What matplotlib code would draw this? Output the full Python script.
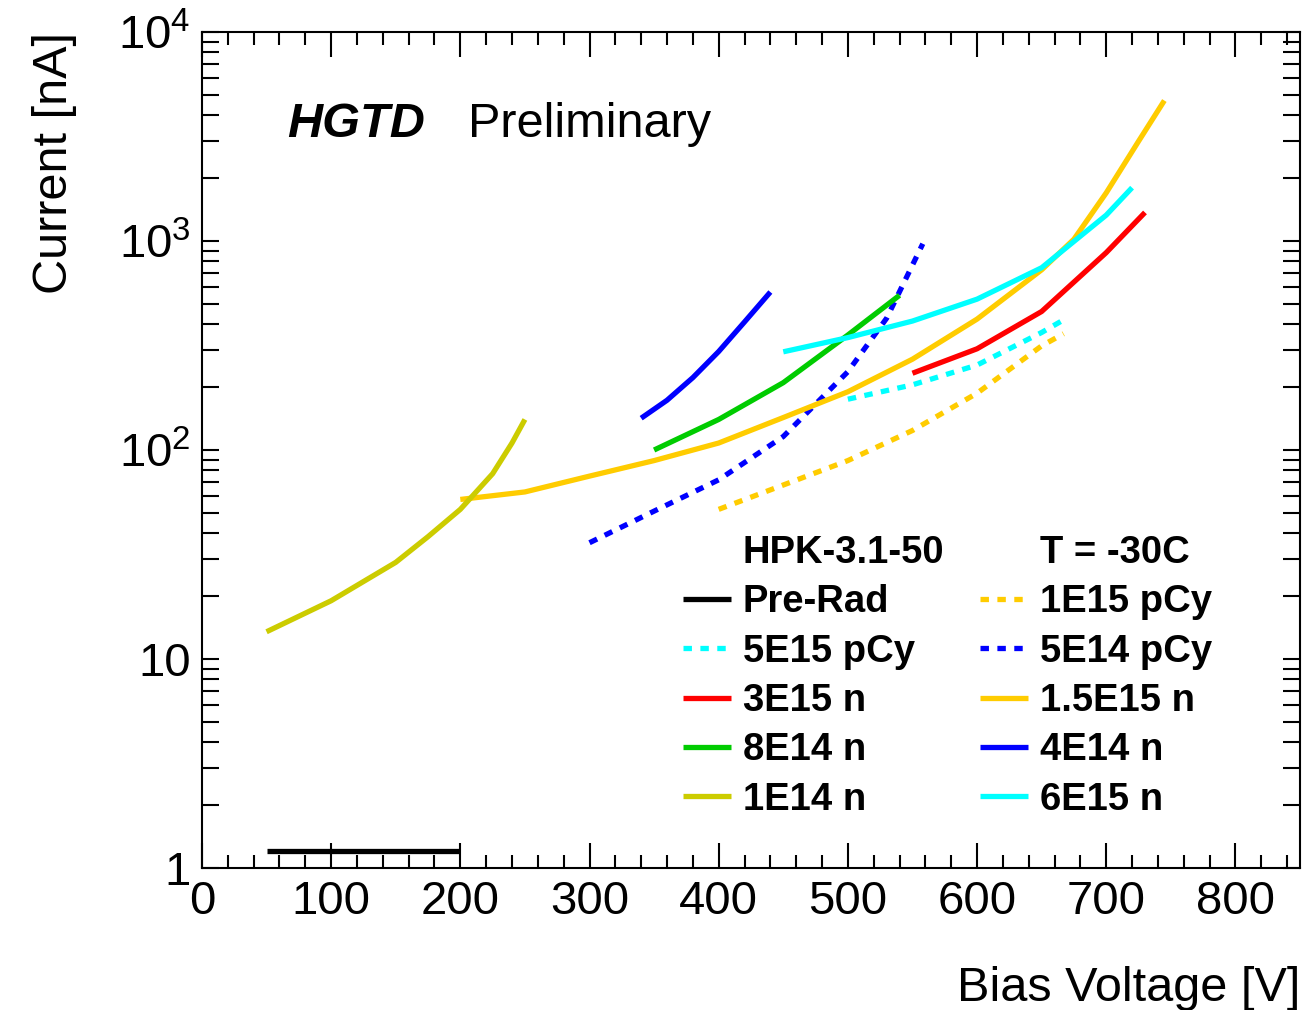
import matplotlib
matplotlib.use("Agg")
import matplotlib.pyplot as plt
from matplotlib.ticker import MultipleLocator, FixedLocator, FixedFormatter, LogLocator, NullFormatter
from matplotlib.lines import Line2D

plt.rcParams['font.family'] = ['Liberation Sans', 'DejaVu Sans']
plt.rcParams['mathtext.fontset'] = 'custom'
plt.rcParams['mathtext.rm'] = 'Liberation Sans'

# I-V curves, HPK-3.1-50 at -30C (bias in V, current in nA)
v_prerad = [50, 200]
i_prerad = [1.2, 1.2]

v_1e15pcy = [400, 450, 500, 550, 600, 650, 667]
i_1e15pcy = [52, 68, 89, 124, 187, 315, 360]

v_5e15pcy = [500, 550, 600, 650, 670]
i_5e15pcy = [175, 205, 255, 365, 430]

v_5e14pcy = [300, 350, 400, 450, 500, 530, 558]
i_5e14pcy = [36, 51, 72, 116, 237, 427, 970]

v_3e15n = [550, 600, 650, 700, 730]
i_3e15n = [233, 305, 460, 880, 1370]

v_15e15n = [200, 250, 300, 350, 400, 450, 500, 550, 600, 650, 675, 700, 725, 745]
i_15e15n = [58, 63, 75, 89, 108, 143, 190, 272, 423, 728, 1020, 1700, 3000, 4700]

v_8e14n = [350, 400, 450, 500, 540]
i_8e14n = [100, 140, 210, 355, 550]

v_4e14n = [340, 360, 380, 400, 420, 440]
i_4e14n = [142, 173, 222, 296, 410, 570]

v_1e14n = [50, 100, 150, 175, 200, 225, 240, 250]
i_1e14n = [13.5, 19, 29, 38.5, 52, 77, 108, 140]

v_6e15n = [450, 500, 550, 600, 650, 700, 720]
i_6e15n = [295, 345, 414, 527, 745, 1330, 1800]

ytick_vals = [1, 10, 100, 1000, 10000]
ytick_labels = ['1', '10', '$10^{2}$', '$10^{3}$', '$10^{4}$']

fig = plt.figure(figsize=(13.03, 10.10), dpi=100)
ax = fig.add_axes([0.155, 0.1406, 0.8427, 0.8277])

lw = 3.8
dot = (1.6, 1.6)
h = {}
h['Pre-Rad'], = ax.plot(v_prerad, i_prerad, color='black', lw=lw, solid_capstyle='butt')
h['1E15 pCy'], = ax.plot(v_1e15pcy, i_1e15pcy, color='#ffcc00', lw=lw, dashes=dot)
h['5E15 pCy'], = ax.plot(v_5e15pcy, i_5e15pcy, color='#00ffff', lw=lw, dashes=dot)
h['5E14 pCy'], = ax.plot(v_5e14pcy, i_5e14pcy, color='#0000ff', lw=lw, dashes=dot)
h['3E15 n'], = ax.plot(v_3e15n, i_3e15n, color='#ff0000', lw=lw, solid_capstyle='butt')
h['1.5E15 n'], = ax.plot(v_15e15n, i_15e15n, color='#ffcc00', lw=lw, solid_capstyle='butt')
h['8E14 n'], = ax.plot(v_8e14n, i_8e14n, color='#00cc00', lw=lw, solid_capstyle='butt')
h['4E14 n'], = ax.plot(v_4e14n, i_4e14n, color='#0000ff', lw=lw, solid_capstyle='butt')
h['1E14 n'], = ax.plot(v_1e14n, i_1e14n, color='#cccc00', lw=lw, solid_capstyle='butt')
h['6E15 n'], = ax.plot(v_6e15n, i_6e15n, color='#00ffff', lw=lw, solid_capstyle='butt')

ax.set_yscale('log')
ax.set_xlim(0, 850)
ax.set_ylim(1, 1e4)

# ROOT-ish ticks: inside, on all sides
ax.xaxis.set_major_locator(MultipleLocator(100))
ax.xaxis.set_minor_locator(MultipleLocator(20))
ax.yaxis.set_major_locator(FixedLocator(ytick_vals))
ax.yaxis.set_major_formatter(FixedFormatter(ytick_labels))
ax.yaxis.set_minor_locator(LogLocator(base=10, subs=range(2, 10)))
ax.yaxis.set_minor_formatter(NullFormatter())
ax.tick_params(axis='both', which='both', direction='in', top=True, right=True, width=1.5, labelsize=34)
ax.tick_params(axis='x', which='major', length=18, pad=9)
ax.tick_params(axis='x', which='minor', length=9.5)
ax.tick_params(axis='y', which='major', length=12.5, pad=8)
ax.tick_params(axis='y', which='minor', length=12.5)
for s in ax.spines.values():
    s.set_linewidth(1.5)

ax.set_xlabel('Bias Voltage [V]', fontsize=35, loc='right', labelpad=30)
ax.set_ylabel('Current [nA]', fontsize=35, loc='top', labelpad=30)

ax.text(0.078, 0.875, 'HGTD', transform=ax.transAxes, fontsize=35, fontweight='bold', fontstyle='italic')
ax.text(0.242, 0.875, 'Preliminary', transform=ax.transAxes, fontsize=35)

# legend, filled column-wise so rows match the original layout
blank = Line2D([], [], color='none')
col1 = ['Pre-Rad', '5E15 pCy', '3E15 n', '8E14 n', '1E14 n']
col2 = ['1E15 pCy', '5E14 pCy', '1.5E15 n', '4E14 n', '6E15 n']
handles = [blank] + [h[k] for k in col1] + [blank] + [h[k] for k in col2]
labels = ['HPK-3.1-50'] + col1 + ['T = -30C'] + col2
leg = ax.legend(handles, labels, ncol=2, loc='lower left', bbox_to_anchor=(0.438, 0.06),
                frameon=False, fontsize=27.5, handlelength=1.26, handletextpad=0.31,
                labelspacing=0.35, columnspacing=0.92, borderpad=0, borderaxespad=0)
for t in leg.get_texts():
    t.set_fontweight('bold')

fig.savefig('out.png', dpi=100)
